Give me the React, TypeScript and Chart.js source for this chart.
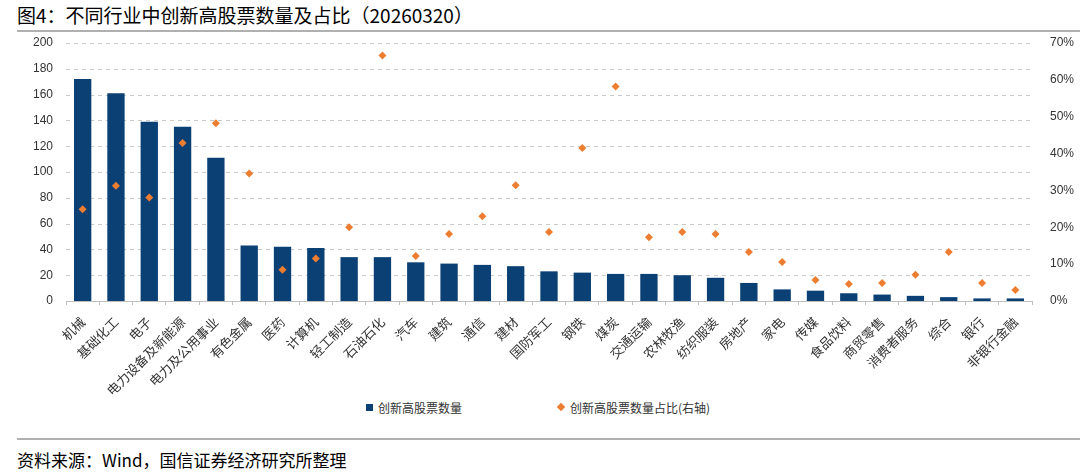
import React, { useEffect, useRef } from 'react';
import { Chart, registerables } from 'chart.js';

Chart.register(...registerables);

const categories = [
  '机械', '基础化工', '电子', '电力设备及新能源', '电力及公用事业', '有色金属', '医药', '计算机',
  '轻工制造', '石油石化', '汽车', '建筑', '通信', '建材', '国防军工', '钢铁', '煤炭', '交通运输',
  '农林牧渔', '纺织服装', '房地产', '家电', '传媒', '食品饮料', '商贸零售', '消费者服务', '综合',
  '银行', '非银行金融',
];

const newHighCounts = [
  172, 161, 139, 135, 111, 43, 42, 41, 34, 34, 30, 29, 28, 27, 23, 22, 21, 21, 20, 18, 14, 9, 8, 6,
  5, 4, 3, 2, 2,
];

const newHighRatios = [
  24.9, 31.3, 28.1, 42.9, 48.2, 34.6, 8.5, 11.5, 20.0, 66.6, 12.2, 18.2, 23.0, 31.4, 18.7, 41.5,
  58.2, 17.3, 18.7, 18.2, 13.3, 10.6, 5.7, 4.6, 4.9, 7.1, 13.3, 4.9, 3.0,
];

const leftTicks = { min: 0, max: 200, step: 20 };
const rightTicks = { min: 0, max: 70, step: 10 };

const seriesNames = ['创新高股票数量', '创新高股票数量占比(右轴)'];
const titleText = '图4：不同行业中创新高股票数量及占比（20260320）';
const sourceText = '资料来源：Wind，国信证券经济研究所整理';

const BAR_COLOR = '#0b4075';
const DOT_COLOR = '#ed7d31';
const GRID_COLOR = '#c9c9c9';
const CJK = '"Noto Sans CJK SC", "Noto Sans", sans-serif';
const LATIN = '"Liberation Sans", Arial, sans-serif';

// Dashed horizontal grid lines at the left axis' own tick positions,
// drawn as short solid segments.
const dashedGrid = {
  id: 'dashedGrid',
  beforeDatasetsDraw(chart: any) {
    const { ctx, chartArea, scales } = chart;
    const yScale = scales.y;
    if (!yScale) return;
    const dash = 4;
    const gap = 4;
    ctx.save();
    ctx.strokeStyle = GRID_COLOR;
    ctx.lineWidth = 1;
    yScale.ticks.forEach((t: any) => {
      if (t.value === yScale.min) return;
      const py = Math.round(yScale.getPixelForValue(t.value)) + 0.5;
      ctx.beginPath();
      for (let x = chartArea.left; x < chartArea.right; x += dash + gap) {
        ctx.moveTo(x, py);
        ctx.lineTo(Math.min(x + dash, chartArea.right), py);
      }
      ctx.stroke();
    });
    ctx.restore();
  },
};

export default function App() {
  const canvasRef = useRef<HTMLCanvasElement | null>(null);

  useEffect(() => {
    if (!canvasRef.current) return;
    const chart = new Chart(canvasRef.current, {
      type: 'bar',
      data: {
        labels: categories,
        datasets: [
          {
            type: 'line',
            label: seriesNames[1],
            data: newHighRatios,
            yAxisID: 'y1',
            showLine: false,
            pointStyle: 'rectRot',
            pointRadius: 4,
            pointHoverRadius: 4,
            backgroundColor: DOT_COLOR,
            borderColor: DOT_COLOR,
            borderWidth: 0,
            order: 1,
          } as any,
          {
            type: 'bar',
            label: seriesNames[0],
            data: newHighCounts,
            yAxisID: 'y',
            backgroundColor: BAR_COLOR,
            borderWidth: 0,
            barPercentage: 0.52,
            categoryPercentage: 1,
            order: 2,
          },
        ],
      },
      plugins: [dashedGrid],
      options: {
        animation: false,
        responsive: false,
        maintainAspectRatio: false,
        layout: { padding: { top: 43, left: 0, right: 0, bottom: 0 } },
        plugins: {
          legend: { display: false },
          tooltip: { enabled: false },
        },
        scales: {
          x: {
            offset: true,
            grid: {
              display: true,
              drawOnChartArea: false,
              offset: true,
              tickLength: 4,
              color: '#bfbfbf',
            },
            border: { display: true, color: '#bfbfbf', width: 1 },
            ticks: {
              autoSkip: false,
              minRotation: 45,
              maxRotation: 45,
              padding: 9,
              color: '#333333',
              font: { family: CJK, size: 13 },
            },
            afterFit: (s: any) => {
              s.height = 94;
            },
          },
          y: {
            type: 'linear',
            position: 'left',
            min: leftTicks.min,
            max: leftTicks.max,
            ticks: {
              stepSize: leftTicks.step,
              padding: 13,
              color: '#333333',
              font: { family: LATIN, size: 12 },
            },
            grid: { display: false, drawTicks: false },
            border: { display: false },
            afterFit: (s: any) => {
              s.width = 66;
            },
          },
          y1: {
            type: 'linear',
            position: 'right',
            min: rightTicks.min,
            max: rightTicks.max,
            ticks: {
              stepSize: rightTicks.step,
              padding: 10,
              color: '#333333',
              font: { family: LATIN, size: 12 },
              callback: (v: any) => `${v}%`,
            },
            grid: { display: false },
            border: { display: false },
            afterFit: (s: any) => {
              s.width = 48;
            },
          },
        },
      },
    });
    return () => chart.destroy();
  }, []);

  return (
    <div
      style={{
        position: 'absolute',
        left: 0,
        top: 0,
        width: 1080,
        height: 475,
        background: '#ffffff',
        overflow: 'hidden',
      }}
    >
      <div
        style={{
          position: 'absolute',
          left: 17,
          top: 3,
          fontFamily: CJK,
          fontSize: 19,
          lineHeight: '24px',
          color: '#000000',
          whiteSpace: 'nowrap',
        }}
      >
        {titleText}
      </div>
      <div
        style={{
          position: 'absolute',
          left: 17,
          right: 0,
          top: 30,
          height: 2,
          background: '#b0b0b0',
        }}
      />
      <canvas
        ref={canvasRef}
        width={1080}
        height={395}
        style={{ position: 'absolute', left: 0, top: 0, width: 1080, height: 395, display: 'block' }}
      />
      <div
        style={{
          position: 'absolute',
          left: 366,
          top: 398,
          height: 18,
          display: 'flex',
          alignItems: 'center',
          fontFamily: CJK,
          fontSize: 12,
          color: '#333333',
          whiteSpace: 'nowrap',
        }}
      >
        <span style={{ display: 'inline-block', width: 7, height: 7, background: BAR_COLOR, marginRight: 5 }} />
        <span>{seriesNames[0]}</span>
      </div>
      <div
        style={{
          position: 'absolute',
          left: 557,
          top: 398,
          height: 18,
          display: 'flex',
          alignItems: 'center',
          fontFamily: CJK,
          fontSize: 12,
          color: '#333333',
          whiteSpace: 'nowrap',
        }}
      >
        <span
          style={{
            display: 'inline-block',
            width: 6,
            height: 6,
            background: DOT_COLOR,
            transform: 'rotate(45deg)',
            marginRight: 6,
            marginLeft: 1,
          }}
        />
        <span>{seriesNames[1]}</span>
      </div>
      <div
        style={{
          position: 'absolute',
          left: 17,
          right: 0,
          top: 438,
          height: 2,
          background: '#b0b0b0',
        }}
      />
      <div
        style={{
          position: 'absolute',
          left: 17,
          top: 449,
          fontFamily: CJK,
          fontSize: 17,
          lineHeight: '22px',
          color: '#000000',
          whiteSpace: 'nowrap',
        }}
      >
        {sourceText}
      </div>
    </div>
  );
}
